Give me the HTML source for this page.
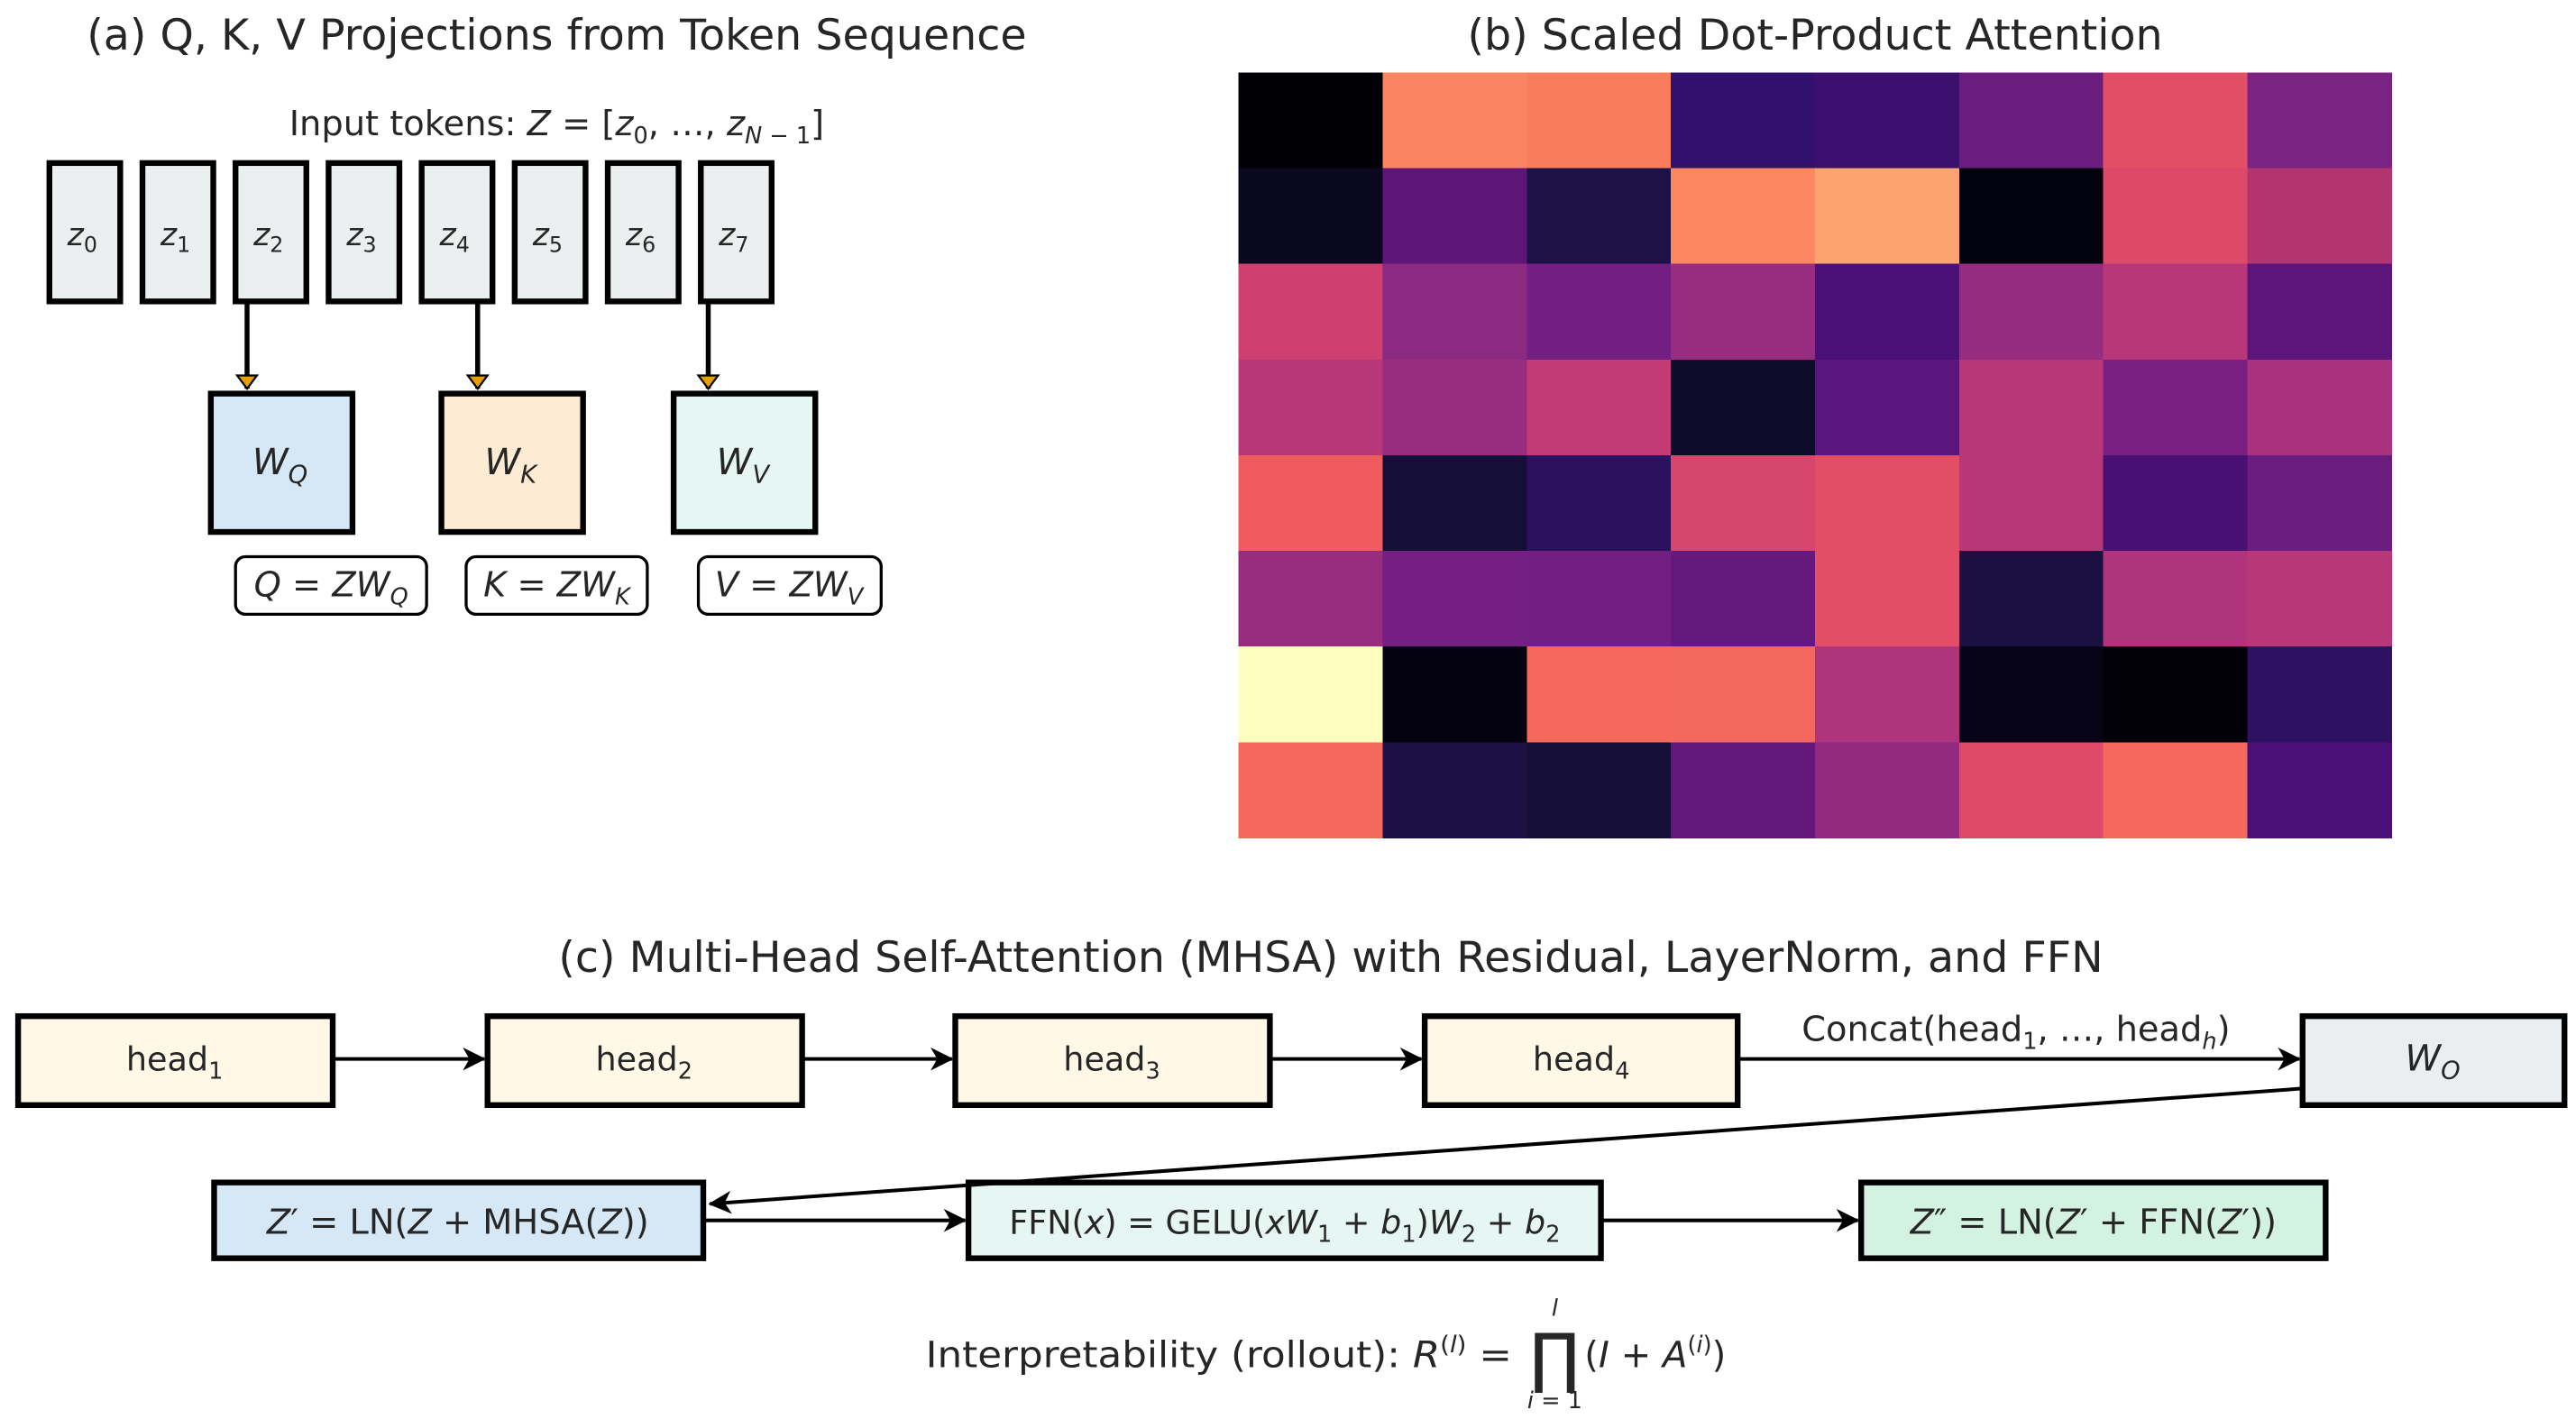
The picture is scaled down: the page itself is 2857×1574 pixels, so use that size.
<!DOCTYPE html>
<html><head><meta charset="utf-8"><style>
html,body{margin:0;padding:0;background:#fff;}
svg{display:block;}
text{font-family:"DejaVu Sans","Liberation Sans",sans-serif;fill:#262626;}
.it{font-style:italic;}
</style></head><body>
<svg width="2857" height="1574" viewBox="0 0 1564 861.6" preserveAspectRatio="none" xmlns="http://www.w3.org/2000/svg">
<defs>
<marker id="ah" markerWidth="14" markerHeight="14" refX="13" refY="7" orient="auto" markerUnits="userSpaceOnUse"><path d="M0,0 L14,7 L0,14 L4,7 z" fill="#000"/></marker>
<marker id="ao" markerWidth="14" markerHeight="10" refX="7" refY="9" orient="0" markerUnits="userSpaceOnUse"><path d="M1,1 L13,1 L7,9 z" fill="#e69f00" stroke="#000" stroke-width="1.2"/></marker>
</defs>
<!-- (a) -->
<text x="338" y="30" font-size="26" text-anchor="middle">(a) Q, K, V Projections from Token Sequence</text>
<text x="338" y="82" font-size="21" text-anchor="middle">Input tokens: <tspan class="it">Z</tspan> = [<tspan class="it">z</tspan><tspan font-size="14" dy="5">0</tspan><tspan dy="-5">, …, </tspan><tspan class="it">z</tspan><tspan font-size="14" dy="5"><tspan class="it">N</tspan> − 1</tspan><tspan dy="-5">]</tspan></text>
<g stroke="#000" stroke-width="3.5" fill="#eceff0">
<rect x="30" y="99" width="43" height="84"/><rect x="86.5" y="99" width="43" height="84"/><rect x="143" y="99" width="43" height="84"/><rect x="199.5" y="99" width="43" height="84"/>
<rect x="256" y="99" width="43" height="84"/><rect x="312.5" y="99" width="43" height="84"/><rect x="369" y="99" width="43" height="84"/><rect x="425.5" y="99" width="43" height="84"/>
</g>
<g font-size="19" text-anchor="middle">
<text x="50" y="149"><tspan class="it">z</tspan><tspan font-size="13" dy="4">0</tspan></text>
<text x="106.5" y="149"><tspan class="it">z</tspan><tspan font-size="13" dy="4">1</tspan></text>
<text x="163" y="149"><tspan class="it">z</tspan><tspan font-size="13" dy="4">2</tspan></text>
<text x="219.5" y="149"><tspan class="it">z</tspan><tspan font-size="13" dy="4">3</tspan></text>
<text x="276" y="149"><tspan class="it">z</tspan><tspan font-size="13" dy="4">4</tspan></text>
<text x="332.5" y="149"><tspan class="it">z</tspan><tspan font-size="13" dy="4">5</tspan></text>
<text x="389" y="149"><tspan class="it">z</tspan><tspan font-size="13" dy="4">6</tspan></text>
<text x="445.5" y="149"><tspan class="it">z</tspan><tspan font-size="13" dy="4">7</tspan></text>
</g>
<g stroke="#000" stroke-width="3">
<line x1="150" y1="183" x2="150" y2="236" marker-end="url(#ao)"/>
<line x1="290" y1="183" x2="290" y2="236" marker-end="url(#ao)"/>
<line x1="430" y1="183" x2="430" y2="236" marker-end="url(#ao)"/>
</g>
<g stroke="#000" stroke-width="3.5">
<rect x="128" y="239" width="86" height="84" fill="#d6e8f6"/>
<rect x="268" y="239" width="86" height="84" fill="#fdebd3"/>
<rect x="409" y="239" width="86" height="84" fill="#e6f6f2"/>
</g>
<g font-size="22" text-anchor="middle">
<text x="170" y="288"><tspan class="it">W</tspan><tspan class="it" font-size="15" dy="5">Q</tspan></text>
<text x="310" y="288"><tspan class="it">W</tspan><tspan class="it" font-size="15" dy="5">K</tspan></text>
<text x="451" y="288"><tspan class="it">W</tspan><tspan class="it" font-size="15" dy="5">V</tspan></text>
</g>
<g stroke="#000" stroke-width="1.8" fill="#fff">
<rect x="143" y="338" width="116" height="35" rx="6"/>
<rect x="283" y="338" width="110" height="35" rx="6"/>
<rect x="424" y="338" width="111" height="35" rx="6"/>
</g>
<g font-size="21" text-anchor="middle">
<text x="201" y="362"><tspan class="it">Q</tspan> = <tspan class="it">ZW</tspan><tspan class="it" font-size="14" dy="5">Q</tspan></text>
<text x="338" y="362"><tspan class="it">K</tspan> = <tspan class="it">ZW</tspan><tspan class="it" font-size="14" dy="5">K</tspan></text>
<text x="479" y="362"><tspan class="it">V</tspan> = <tspan class="it">ZW</tspan><tspan class="it" font-size="14" dy="5">V</tspan></text>
</g>
<!-- (b) -->
<text x="1102" y="30" font-size="26" text-anchor="middle">(b) Scaled Dot-Product Attention</text>
<g id="hm" shape-rendering="crispEdges"></g>
<!-- (c) -->
<text x="808" y="590" font-size="26" text-anchor="middle">(c) Multi-Head Self-Attention (MHSA) with Residual, LayerNorm, and FFN</text>
<g stroke="#000" stroke-width="3.5">
<rect x="11" y="617" width="191" height="54" fill="#fff8e7"/>
<rect x="296" y="617" width="191" height="54" fill="#fff8e7"/>
<rect x="580" y="617" width="191" height="54" fill="#fff8e7"/>
<rect x="865" y="617" width="190" height="54" fill="#fff8e7"/>
<rect x="1398" y="617" width="159" height="54" fill="#ebeef0"/>
<rect x="130" y="718" width="297" height="46" fill="#d6e8f6"/>
<rect x="588" y="718" width="384" height="46" fill="#e6f6f2"/>
<rect x="1130" y="718" width="282" height="46" fill="#d4f2e1"/>
</g>
<g stroke="#000" stroke-width="2.2" fill="none">
<line x1="202" y1="643" x2="294" y2="643" marker-end="url(#ah)"/>
<line x1="487" y1="643" x2="578" y2="643" marker-end="url(#ah)"/>
<line x1="771" y1="643" x2="863" y2="643" marker-end="url(#ah)"/>
<line x1="1055" y1="643" x2="1396" y2="643" marker-end="url(#ah)"/>
<line x1="1397" y1="661" x2="431" y2="731" marker-end="url(#ah)"/>
<line x1="427" y1="741" x2="586" y2="741" marker-end="url(#ah)"/>
<line x1="972" y1="741" x2="1128" y2="741" marker-end="url(#ah)"/>
</g>
<g font-size="20" text-anchor="middle">
<text x="106" y="650">head<tspan font-size="14" dy="5">1</tspan></text>
<text x="391" y="650">head<tspan font-size="14" dy="5">2</tspan></text>
<text x="675" y="650">head<tspan font-size="14" dy="5">3</tspan></text>
<text x="960" y="650">head<tspan font-size="14" dy="5">4</tspan></text>
<text x="1224" y="632" font-size="21">Concat(head<tspan font-size="14" dy="5">1</tspan><tspan dy="-5">, …, head</tspan><tspan class="it" font-size="14" dy="5">h</tspan><tspan dy="-5">)</tspan></text>
<text x="1477" y="650" font-size="22"><tspan class="it">W</tspan><tspan class="it" font-size="15" dy="5">O</tspan></text>
<text x="278" y="749" font-size="21"><tspan class="it">Z</tspan>′ = LN(<tspan class="it">Z</tspan> + MHSA(<tspan class="it">Z</tspan>))</text>
<text x="780" y="749" font-size="20">FFN(<tspan class="it">x</tspan>) = GELU(<tspan class="it">xW</tspan><tspan font-size="14" dy="5">1</tspan><tspan dy="-5"> + </tspan><tspan class="it">b</tspan><tspan font-size="14" dy="5">1</tspan><tspan dy="-5">)</tspan><tspan class="it">W</tspan><tspan font-size="14" dy="5">2</tspan><tspan dy="-5"> + </tspan><tspan class="it">b</tspan><tspan font-size="14" dy="5">2</tspan></text>
<text x="1271" y="749" font-size="21"><tspan class="it">Z</tspan>″ = LN(<tspan class="it">Z</tspan>′ + FFN(<tspan class="it">Z</tspan>′))</text>
</g>
<g font-size="22">
<text x="562" y="830" textLength="356" lengthAdjust="spacingAndGlyphs">Interpretability (rollout): <tspan class="it">R</tspan><tspan font-size="14" dy="-9">(<tspan class="it">l</tspan>)</tspan><tspan dy="9"> = </tspan></text>
<text x="944" y="838" font-size="40" text-anchor="middle">∏</text>
<text x="944" y="799" font-size="14" text-anchor="middle" class="it">l</text>
<text x="944" y="855" font-size="14" text-anchor="middle"><tspan class="it">i</tspan> = 1</text>
<text x="962" y="830">(<tspan class="it">I</tspan> + <tspan class="it">A</tspan><tspan font-size="14" dy="-9">(<tspan class="it">i</tspan>)</tspan><tspan dy="9">)</tspan></text>
</g>
</svg>
<script>
var C=[["#000004","#fa8560","#f97d5d","#32106d","#3a0f6e","#6a1c7f","#e24e65","#7b2382"],
["#0a0720","#5e1578","#1e1147","#fb8861","#fca471","#02020e","#dd4968","#b3356f"],
["#cf4070","#8c2981","#721f81","#982d80","#4a1077","#952c80","#b73779","#5c157b"],
["#b73779","#982d80","#c23b75","#0e0b2b","#5a167d","#b73779","#7a1f82","#a8327d"],
["#ef5b5e","#150e37","#2b115e","#d6456c","#e24e65","#b73779","#471072","#6a1c7f"],
["#982d80","#761f82","#731f81","#65187e","#e24e65","#1a1042","#b0347b","#b83779"],
["#fcfdbf","#03020e","#f4695c","#f3685c","#b0347b","#070417","#020109","#2f1162"],
["#f4695c","#1c1044","#150e37","#63177d","#922a80","#de4a68","#f5695c","#4a1077"]];
var g=document.getElementById("hm"),x0=752,y0=44,w=87.5,h=58.1,s="";
for(var r=0;r<8;r++)for(var c=0;c<8;c++)s+='<rect x="'+(x0+c*w)+'" y="'+(y0+r*h)+'" width="'+(w+0.3)+'" height="'+(h+0.3)+'" fill="'+C[r][c]+'"/>';
g.innerHTML=s;
</script>
</body></html>
